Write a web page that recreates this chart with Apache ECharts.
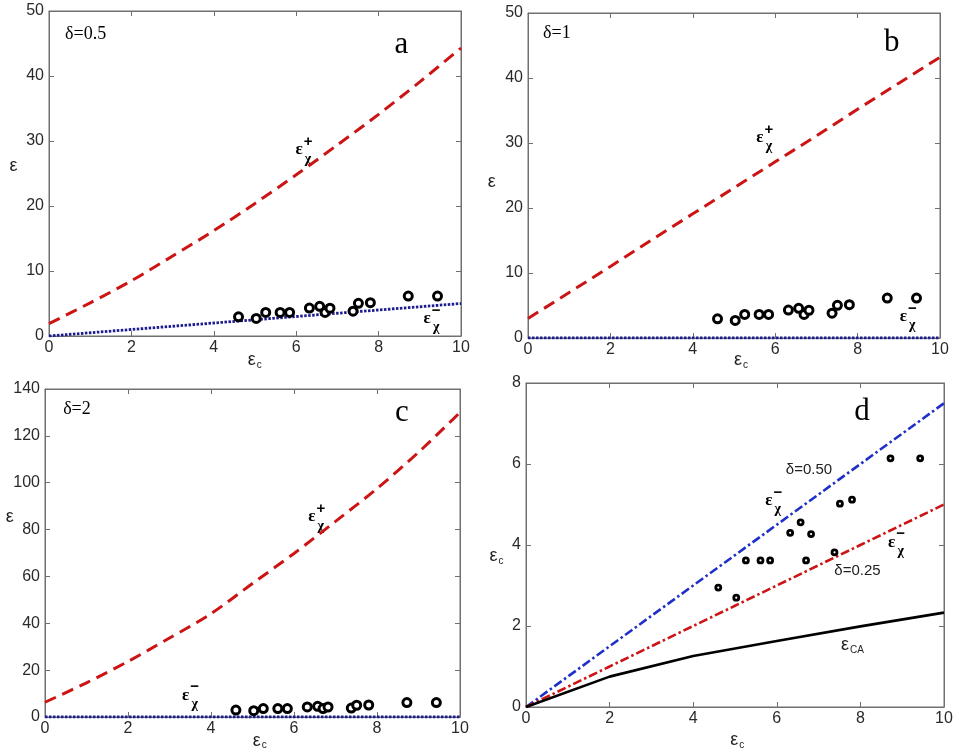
<!DOCTYPE html>
<html>
<head>
<meta charset="utf-8">
<script src="https://cdn.jsdelivr.net/npm/echarts@6/dist/echarts.min.js"></script>
<style>
  html, body { margin: 0; padding: 0; background: #fff; }
  #main { width: 959px; height: 752px; }
</style>
</head>
<body>
<div id="main"></div>
<script>
// measured points (same set in every panel)
const pointX = [4.6, 5.03, 5.26, 5.61, 5.84, 6.32, 6.57, 6.7, 6.82, 7.38, 7.51, 7.8, 8.72, 9.43];
const pointY = [2.95, 2.7, 3.62, 3.62, 3.62, 4.3, 4.56, 3.62, 4.27, 3.82, 5.02, 5.12, 6.14, 6.14];

const ecSteps = [0, 1, 2, 3, 4, 5, 6, 7, 8, 9, 10];
const plusA  = [1.9, 5.1, 8.5, 12.3, 16.2, 20.4, 24.8, 29.4, 34.1, 39.1, 44.3];
const minusA = [0, 0.5, 1.0, 1.5, 2.0, 2.5, 3.0, 3.5, 4.0, 4.5, 5.0];
const plusB  = [3.0, 7.0, 11.0, 15.1, 19.1, 23.1, 27.1, 31.1, 35.2, 39.2, 43.2];
const minusB = [0, 0, 0, 0, 0, 0, 0, 0, 0, 0, 0];
const plusC  = [6.3, 14.6, 23.7, 33.7, 44.1, 57.0, 69.8, 83.5, 97.5, 113.0, 130.0];
const minusC = [0, 0, 0, 0, 0, 0, 0, 0, 0, 0, 0];

// panel d
const delta50 = [0, 0.75, 1.5, 2.25, 3.0, 3.75, 4.5, 5.25, 6.0, 6.75, 7.5];
const delta25 = [0, 0.5, 1.0, 1.5, 2.0, 2.5, 3.0, 3.5, 4.0, 4.5, 5.0];
const caX = [0, 2, 4, 6, 8, 10];
const caY = [0, 0.75, 1.26, 1.63, 1.99, 2.33];

// axis ranges per panel: [ymax, yinterval]
const yRanges = [[50, 10], [50, 10], [140, 20], [8, 2]];

const RED = '#cc1414';
const NAVY = '#1c1c90';
const BLUE = '#1f30c8';
const AXIS = '#707070';
const SANS = '"Liberation Sans", Arial, sans-serif';
const SERIF = '"Liberation Serif", "Times New Roman", serif';

const chartDom = document.getElementById('main');
const myChart = echarts.init(chartDom);

const grids = [
    { left: 49, top: 11, width: 412, height: 325 },
    { left: 528, top: 13, width: 412, height: 325 },
    { left: 45, top: 389, width: 415, height: 328 },
    { left: 526, top: 383, width: 418, height: 324 }
];

function pairs(xs, ys) {
    return xs.map(function (x, i) { return [x, ys[i]]; });
}

let xAxes = [];
let yAxes = [];
grids.forEach(function (g, i) {
    g.show = true;
    g.borderColor = AXIS;
    g.borderWidth = 1;
    g.containLabel = false;
    [['bottom', true], ['top', false]].forEach(function (p) {
        xAxes.push({
            type: 'value', gridIndex: i, position: p[0], min: 0, max: 10, interval: 2,
            axisLine: { show: true, onZero: false, lineStyle: { color: AXIS } },
            axisTick: { show: true, inside: true, length: 5, lineStyle: { color: AXIS } },
            axisLabel: { show: p[1], color: '#2a2a2a', fontSize: 16, fontFamily: SANS, margin: 4 },
            splitLine: { show: false }
        });
    });
    [['left', true], ['right', false]].forEach(function (p) {
        yAxes.push({
            type: 'value', gridIndex: i, position: p[0], min: 0, max: yRanges[i][0], interval: yRanges[i][1],
            axisLine: { show: true, onZero: false, lineStyle: { color: AXIS } },
            axisTick: { show: true, inside: true, length: 5, lineStyle: { color: AXIS } },
            axisLabel: { show: p[1], color: '#2a2a2a', fontSize: 16, fontFamily: SANS, margin: 5 },
            splitLine: { show: false }
        });
    });
});

function line(i, data, color, dash, smooth, width) {
    return {
        type: 'line', xAxisIndex: 2 * i, yAxisIndex: 2 * i, data: data,
        showSymbol: false, smooth: smooth || false, silent: true,
        lineStyle: { color: color, width: width || 2.6, type: dash }
    };
}

function points(i, size, border) {
    return {
        type: 'scatter', xAxisIndex: 2 * i, yAxisIndex: 2 * i, z: 5,
        data: pairs(pointX, pointY), symbol: 'circle', symbolSize: size,
        itemStyle: { color: '#fff', borderColor: '#000', borderWidth: border, opacity: 1 }
    };
}

const DASH = [12, 7];
const DOT = [2.5, 1.5];
const DASHDOT = [9, 3, 2.5, 3];

let series = [
    line(0, pairs(ecSteps, plusA), RED, DASH, 0.3, 3),
    line(0, pairs(ecSteps, minusA), NAVY, DOT, false, 2.8),
    points(0, 8, 3),
    line(1, pairs(ecSteps, plusB), RED, DASH, false, 3),
    line(1, pairs(ecSteps, minusB), NAVY, DOT, false, 2.8),
    points(1, 8, 3),
    line(2, pairs(ecSteps, plusC), RED, DASH, 0.3, 3),
    line(2, pairs(ecSteps, minusC), NAVY, DOT, false, 2.8),
    points(2, 8, 3),
    line(3, pairs(ecSteps, delta50), BLUE, DASHDOT),
    line(3, pairs(ecSteps, delta25), RED, DASHDOT),
    line(3, pairs(caX, caY), '#000', 'solid'),
    points(3, 5, 2.8)
];

let option = {
    animation: false,
    backgroundColor: '#fff',
    grid: grids,
    xAxis: xAxes,
    yAxis: yAxes,
    series: series
};

option && myChart.setOption(option);

// ---- text annotations, anchored in data coordinates ----
function px(i, x, y) {
    return myChart.convertToPixel({ xAxisIndex: 2 * i, yAxisIndex: 2 * i }, [x, y]);
}

function txt(i, x, y, text, font, extra) {
    const p = px(i, x, y);
    let style = { text: text, x: p[0], y: p[1], align: 'center', verticalAlign: 'middle', fill: '#000', font: font };
    if (extra) Object.assign(style, extra);
    return { type: 'text', style: style, z: 10 };
}

// epsilon with stacked superscript sign and subscript chi
function epsChi(i, x, y, sign) {
    const p = px(i, x, y);
    return {
        type: 'group', x: p[0], y: p[1], z: 10,
        children: [
            { type: 'text', style: { text: 'ε', x: 0, y: 0, align: 'center', verticalAlign: 'middle', fill: '#000', font: 'bold 17px ' + SERIF } },
            { type: 'text', style: { text: sign, x: 9, y: -8, align: 'center', verticalAlign: 'middle', fill: '#000', font: 'bold 15px ' + SANS } },
            { type: 'text', style: { text: 'χ', x: 9, y: 9, align: 'center', verticalAlign: 'middle', fill: '#000', font: 'bold 14px ' + SERIF } }
        ]
    };
}

// epsilon with small subscript
function epsSub(i, x, y, sub) {
    const p = px(i, x, y);
    return {
        type: 'group', x: p[0], y: p[1], z: 10,
        children: [
            { type: 'text', style: { text: 'ε', x: 0, y: 0, align: 'center', verticalAlign: 'middle', fill: '#222', font: '18px ' + SANS } },
            { type: 'text', style: { text: sub, x: 5, y: 5, align: 'left', verticalAlign: 'middle', fill: '#222', font: '10px ' + SANS } }
        ]
    };
}

const graphics = [
    // panel a
    txt(0, 0.89, 46.4, 'δ=0.5', '18px ' + SERIF),
    txt(0, 8.55, 44.8, 'a', '31px ' + SERIF),
    epsChi(0, 6.07, 28.6, '+'),
    epsChi(0, 9.18, 2.7, '−'),
    txt(0, -0.86, 26.2, 'ε', '18px ' + SANS, { fill: '#222' }),
    epsSub(0, 4.92, -3.75, 'c'),
    // panel b
    txt(1, 0.70, 46.9, 'δ=1', '18px ' + SERIF),
    txt(1, 8.83, 45.4, 'b', '31px ' + SERIF),
    epsChi(1, 5.63, 30.8, '+'),
    epsChi(1, 9.11, 3.3, '−'),
    txt(1, -0.88, 24, 'ε', '18px ' + SANS, { fill: '#222' }),
    epsSub(1, 5.1, -3.44, 'c'),
    // panel c
    txt(2, 0.77, 131.5, 'δ=2', '18px ' + SERIF),
    txt(2, 8.6, 129.8, 'c', '31px ' + SERIF),
    epsChi(2, 6.43, 85.4, '+'),
    epsChi(2, 3.39, 9.3, '−'),
    txt(2, -0.85, 85.4, 'ε', '18px ' + SANS, { fill: '#222' }),
    epsSub(2, 5.1, -10.1, 'c'),
    // panel d
    txt(3, 8.04, 7.29, 'd', '31px ' + SERIF),
    txt(3, 6.77, 5.86, 'δ=0.50', '15px ' + SANS, { fill: '#222' }),
    txt(3, 7.93, 3.35, 'δ=0.25', '15px ' + SANS, { fill: '#222' }),
    epsChi(3, 5.81, 5.10, '−'),
    epsChi(3, 8.75, 4.07, '−'),
    epsSub(3, 7.63, 1.52, 'CA'),
    epsSub(3, -0.78, 3.72, 'c'),
    epsSub(3, 4.98, -0.81, 'c')
];

myChart.setOption({ graphic: graphics });
</script>
</body>
</html>
